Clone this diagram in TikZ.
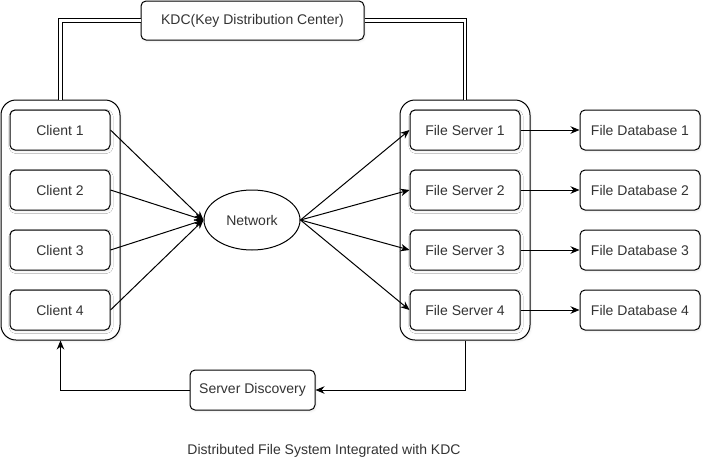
\documentclass[tikz,border=0pt]{standalone}
\usepackage{fontspec}
\setmainfont{Liberation Sans}
\usepackage{tikz}
\usetikzlibrary{arrows.meta,positioning,shapes.geometric,shadows.blur}

\begin{document}
\begin{tikzpicture}[
  x=1pt, y=-1pt, line width=1pt,
  font=\fontsize{14}{16}\selectfont, text=black!80,
  box/.style={draw, fill=white, rounded corners=5pt,
    minimum width=100pt, minimum height=40pt, align=center,
    blur shadow={shadow xshift=1pt, shadow yshift=-1.5pt, shadow blur steps=4, shadow opacity=8}},
  group/.style={draw, fill=white, rounded corners=15pt, minimum width=119pt, minimum height=240pt,
    blur shadow={shadow xshift=1pt, shadow yshift=-1.5pt, shadow blur steps=4, shadow opacity=8}},
  cloud/.style={draw, fill=white, ellipse, minimum width=96pt, minimum height=60pt, inner sep=0pt},
  arr/.style={-{Stealth[length=9pt, width=7.5pt]}},
  dbl/.style={double, double distance=2.5pt}
]
\useasboundingbox (0,0) rectangle (712,472);

% containers
\node[group]                      (clients) at (60.5, 220) {};
\node[group, minimum width=130pt] (servers) at (465, 220)  {};

\node[box, minimum width=223pt, minimum height=39pt] (kdc) at (252.5, 20.5) {KDC(Key Distribution Center)};
\node[cloud] (net) at (252, 220) {Network};

\node[box] (c1) at (60, 130) {Client 1};
\node[box] (c2) at (60, 190) {Client 2};
\node[box] (c3) at (60, 250) {Client 3};
\node[box] (c4) at (60, 310) {Client 4};

\node[box, minimum width=110pt] (s1) at (465, 130) {File Server 1};
\node[box, minimum width=110pt] (s2) at (465, 190) {File Server 2};
\node[box, minimum width=110pt] (s3) at (465, 250) {File Server 3};
\node[box, minimum width=110pt] (s4) at (465, 310) {File Server 4};

\node[box, minimum width=120pt] (d1) at (640, 130) {File Database 1};
\node[box, minimum width=120pt] (d2) at (640, 190) {File Database 2};
\node[box, minimum width=120pt] (d3) at (640, 250) {File Database 3};
\node[box, minimum width=120pt] (d4) at (640, 310) {File Database 4};

\node[box, minimum width=125pt] (disc) at (252.5, 390) {Server Discovery};

\foreach \i in {1,...,4} {
  \draw[arr] (c\i.east) -- (net.west);
  \draw[arr] (net.east) -- (s\i.west);
  \draw[arr] (s\i.east) -- (d\i.west);
}

\draw[dbl] (clients.north) |- (kdc.west);
\draw[dbl] (kdc.east) -| (servers.north);

\draw[arr] (servers.south) |- (disc.east);
\draw[arr] (disc.west) -| (clients.south);

\node (title) at (324, 451) {Distributed File System Integrated with KDC};
\end{tikzpicture}
\end{document}
